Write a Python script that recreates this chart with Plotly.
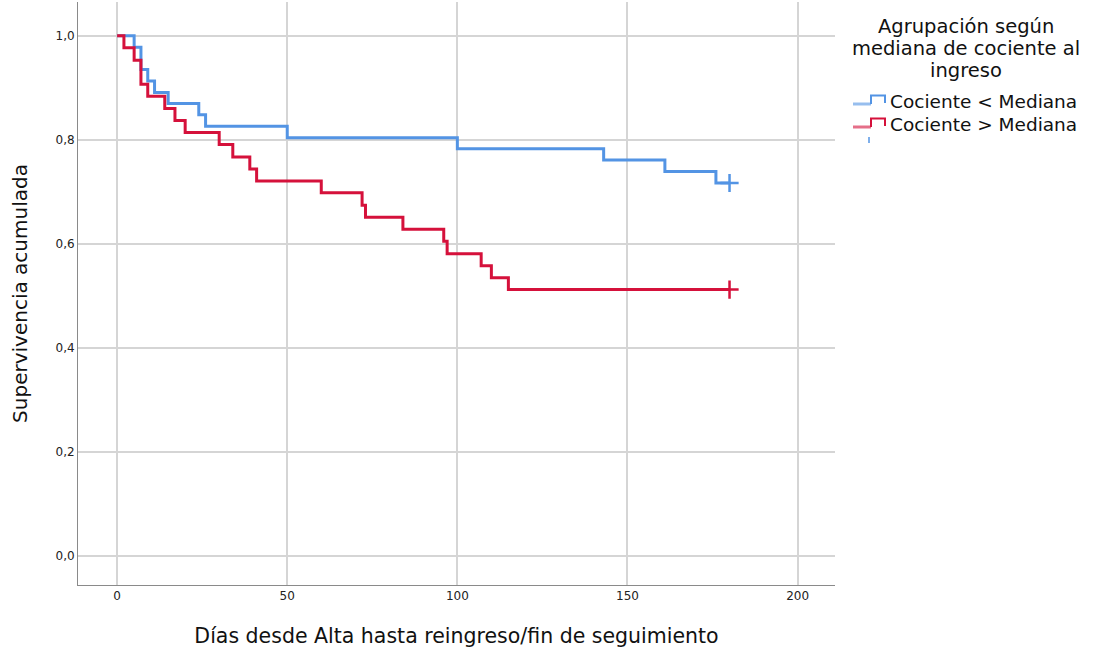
import plotly.graph_objects as go

# Kaplan-Meier step curves: event days and cumulative survival after each event
group_names = ["Cociente < Mediana", "Cociente > Mediana"]
legend_title_lines = ["Agrupación según", "mediana de cociente al", "ingreso"]

low_days = [0, 5, 7, 9, 11, 15, 24, 26, 50, 100, 143, 161, 176, 180]
low_surv = [1.0, 0.978, 0.935, 0.913, 0.891, 0.870, 0.848, 0.826, 0.804,
            0.783, 0.761, 0.739, 0.717, 0.717]

high_days = [0, 2, 5, 7, 9, 14, 17, 20, 30, 34, 39, 41, 60, 72, 73, 84, 96,
             97, 107, 110, 115, 180]
high_surv = [1.0, 0.977, 0.953, 0.907, 0.884, 0.860, 0.837, 0.814, 0.791,
             0.767, 0.744, 0.721, 0.698, 0.674, 0.651, 0.628, 0.605, 0.581,
             0.558, 0.535, 0.512, 0.512]

# censored observations at end of follow-up
censor_day = [180]
low_censor_surv = [0.717]
high_censor_surv = [0.512]

x_ticks = [0, 50, 100, 150, 200]
y_ticks = [0.0, 0.2, 0.4, 0.6, 0.8, 1.0]

blue = "#5394E4"
red = "#D5113B"
font_family = "DejaVu Sans"
text_color = "#111111"

W, H = 1093, 653
M_L, M_R, M_T, M_B = 78, 258, 2, 68
PLOT_W = W - M_L - M_R
PLOT_H = H - M_T - M_B


def px(xp):
    """Horizontal pixel position -> paper coordinate."""
    return (xp - M_L) / PLOT_W


def py(yp):
    """Vertical pixel position (from top) -> paper coordinate."""
    return (H - M_B - yp) / PLOT_H


fig = go.Figure()

fig.add_trace(go.Scatter(
    x=low_days, y=low_surv, mode="lines", line_shape="hv",
    line=dict(color=blue, width=3), name=group_names[0], showlegend=False,
))
fig.add_trace(go.Scatter(
    x=high_days, y=high_surv, mode="lines", line_shape="hv",
    line=dict(color=red, width=3), name=group_names[1], showlegend=False,
))
for surv, color in ((low_censor_surv, blue), (high_censor_surv, red)):
    fig.add_trace(go.Scatter(
        x=censor_day, y=surv, mode="markers",
        marker=dict(symbol="cross-thin", size=13, color=color,
                    line=dict(color=color, width=2.5)),
        showlegend=False, hoverinfo="skip",
    ))

grid_color = "#D5D5D5"
axis_color = "#8A8A8A"

fig.update_xaxes(
    range=[-11.5, 211], tickvals=x_ticks, showgrid=True, gridcolor=grid_color,
    gridwidth=2, zeroline=False, showline=True, linecolor=axis_color,
    linewidth=1, ticks="", tickfont=dict(family=font_family, size=12, color="#222"),
    title=dict(text="Días desde Alta hasta reingreso/fin de seguimiento",
               font=dict(family=font_family, size=20.5, color=text_color),
               standoff=26),
    automargin=False,
)
fig.update_yaxes(
    range=[-0.056, 1.065], tickvals=y_ticks, tickformat=".1f", showgrid=True,
    gridcolor=grid_color, gridwidth=2, zeroline=False, showline=True,
    linecolor=axis_color, linewidth=1, ticks="",
    tickfont=dict(family=font_family, size=12, color="#222"),
    title=dict(text="Supervivencia acumulada",
               font=dict(family=font_family, size=20, color=text_color),
               standoff=22),
    automargin=False,
)

# Legend drawn beside the plot: centred title, step-shaped keys, censor tick
annotations = []
for line, yc in zip(legend_title_lines, (26, 48, 70)):
    annotations.append(dict(
        xref="paper", yref="paper", x=px(966), y=py(yc), text=line,
        showarrow=False, xanchor="center", yanchor="middle",
        font=dict(family=font_family, size=19.5, color=text_color),
    ))
for name, yc in zip(group_names, (101.5, 124.5)):
    annotations.append(dict(
        xref="paper", yref="paper", x=px(888), y=py(yc), text=name,
        showarrow=False, xanchor="left", yanchor="middle",
        font=dict(family=font_family, size=18.5, color=text_color),
    ))

shapes = []
for color, base in ((blue, 104), (red, 127)):
    top = base - 8.5
    shapes.append(dict(
        type="line", xref="paper", yref="paper",
        x0=px(853), x1=px(871), y0=py(base), y1=py(base),
        line=dict(color=color, width=3), opacity=0.6,
    ))
    shapes.append(dict(
        type="path", xref="paper", yref="paper",
        path=(f"M {px(871)} {py(base)} L {px(871)} {py(top)} "
              f"L {px(885)} {py(top)} L {px(885)} {py(base - 1)}"),
        line=dict(color=color, width=2),
    ))
shapes.append(dict(
    type="line", xref="paper", yref="paper",
    x0=px(869), x1=px(869), y0=py(137), y1=py(143),
    line=dict(color=blue, width=1.5),
))

fig.update_layout(
    width=W, height=H,
    margin=dict(l=M_L, r=M_R, t=M_T, b=M_B),
    paper_bgcolor="white", plot_bgcolor="white",
    separators=",.",
    showlegend=False,
    annotations=annotations,
    shapes=shapes,
)

fig.write_html("out.html")
